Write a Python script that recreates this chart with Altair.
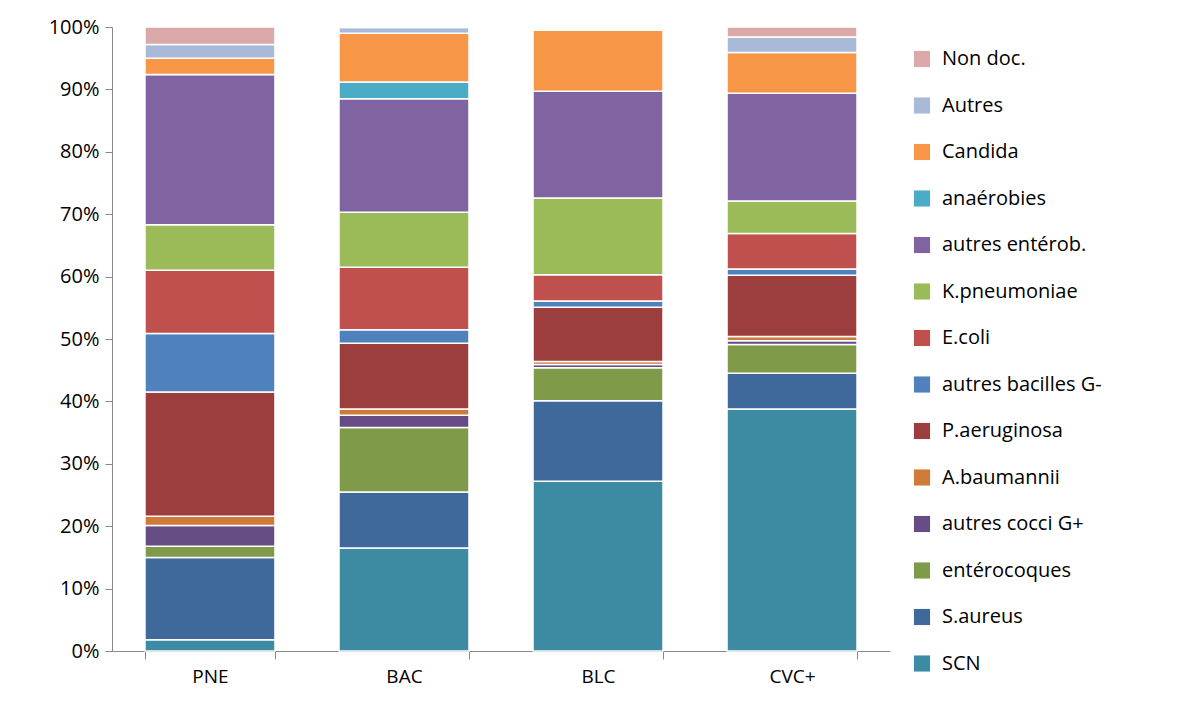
import altair as alt
import pandas as pd

groups = ["PNE", "BAC", "BLC", "CVC+"]
germs = ["SCN", "S.aureus", "entérocoques", "autres cocci G+", "A.baumannii",
         "P.aeruginosa", "autres bacilles G-", "E.coli", "K.pneumoniae",
         "autres entérob.", "anaérobies", "Candida", "Autres", "Non doc."]
colors = ["#3d8ba3", "#3f699b", "#7f9a48", "#664c84", "#d07a3a",
          "#9c3e3d", "#4f81bd", "#c0504d", "#9bbb59",
          "#8064a2", "#4bacc6", "#f79646", "#a9b9d8", "#dba9a9"]

pne = [1.8, 13.2, 1.8, 3.3, 1.5, 19.9, 9.4, 10.1, 7.3, 24.1, 0.0, 2.6, 2.2, 2.8]
bac = [16.5, 9.0, 10.3, 2.0, 1.0, 10.5, 2.2, 10.0, 8.8, 18.2, 2.7, 7.8, 0.9, 0.1]
blc = [27.2, 12.9, 5.3, 0.5, 0.5, 8.7, 1.0, 4.2, 12.3, 17.1, 0.0, 9.8, 0.0, 0.0]
cvc = [38.8, 5.7, 4.6, 0.6, 0.7, 9.8, 1.0, 5.7, 5.2, 17.3, 0.0, 6.5, 2.5, 1.6]

rows = []
for g, vals in zip(groups, [pne, bac, blc, cvc]):
    for i, (germ, v) in enumerate(zip(germs, vals)):
        rows.append({"groupe": g, "germe": germ, "ordre": i, "pct": v / 100})
df = pd.DataFrame(rows)

FONT = "Open Sans"

chart = (
    alt.Chart(df)
    .mark_bar(stroke="white", strokeWidth=1.5)
    .encode(
        x=alt.X("groupe:N", sort=groups, title=None,
                scale=alt.Scale(paddingInner=0.33, paddingOuter=0.17),
                axis=alt.Axis(labelAngle=0, labelFontSize=19, labelColor="#000",
                              domainColor="#888", tickColor="#888", tickSize=8,
                              tickBand="extent", labelPadding=8)),
        y=alt.Y("pct:Q", stack="zero", title=None,
                scale=alt.Scale(domain=[0, 1], nice=False),
                axis=alt.Axis(format=".0%", values=[i / 10 for i in range(11)],
                              grid=False, labelFontSize=20, labelColor="#000",
                              domainColor="#888", tickColor="#888", tickSize=7,
                              labelPadding=6)),
        color=alt.Color("germe:N",
                        scale=alt.Scale(domain=germs[::-1], range=colors[::-1]),
                        legend=alt.Legend(title=None, orient="none", legendX=800,
                                          legendY=22, labelFontSize=20,
                                          labelColor="#000", symbolType="square",
                                          symbolSize=260, symbolStrokeWidth=0,
                                          rowPadding=26.5, labelOffset=10,
                                          labelLimit=300)),
        order=alt.Order("ordre:Q"),
    )
    .properties(width=778, height=624,
                autosize=alt.AutoSizeParams(type="none"),
                padding={"left": 104, "top": 19, "right": 270, "bottom": 50})
    .configure(font=FONT, view=alt.ViewConfig(stroke=None))
)

chart.save("out.html", embed_options={"renderer": "svg", "actions": False})
